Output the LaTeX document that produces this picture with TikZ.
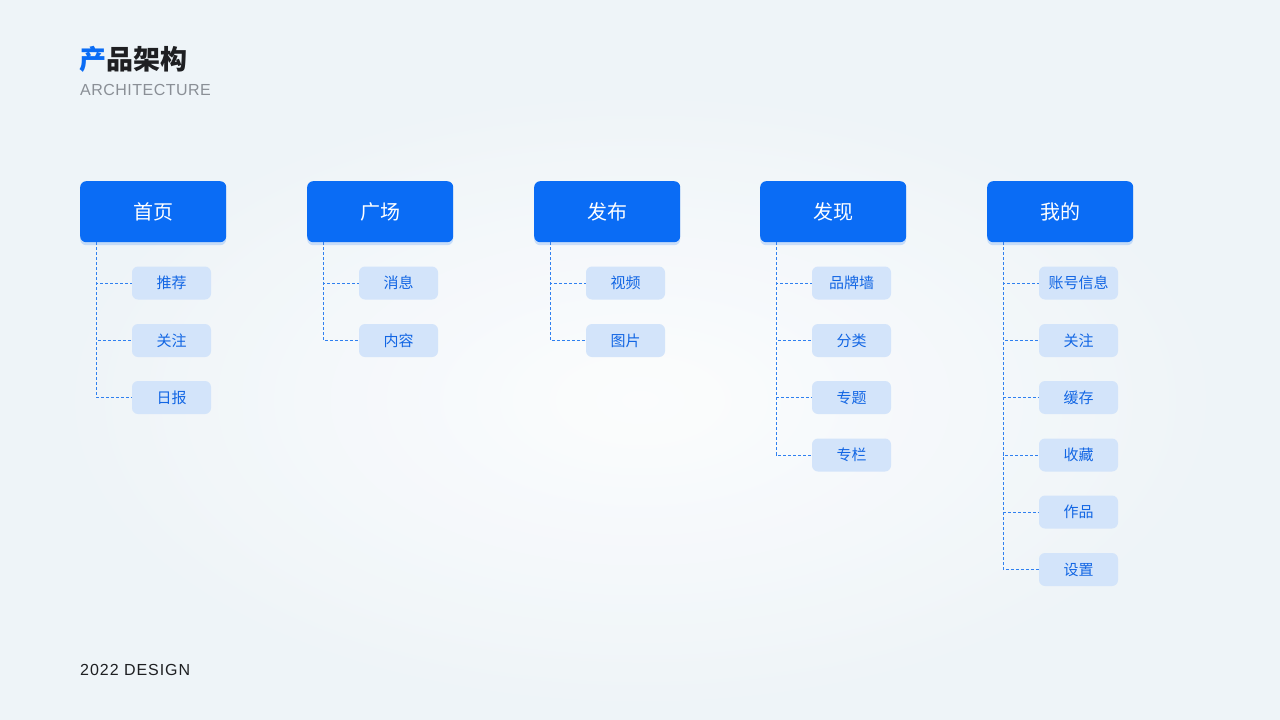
\documentclass[tikz,border=0pt]{standalone}
\usepackage{fontspec}
\setmainfont{Liberation Sans}
\newfontfamily\cjk{Noto Sans CJK SC}
\usetikzlibrary{shadows,calc}
\definecolor{mainblue}{HTML}{0A6CF5}
\definecolor{subfill}{HTML}{D3E4FA}
\definecolor{subtext}{HTML}{1266E4}
\definecolor{linecol}{HTML}{2F80F0}
\definecolor{bgcol}{HTML}{EEF4F8}
\definecolor{titledark}{HTML}{1E1F22}
\definecolor{graytext}{HTML}{8A8F96}
\tikzset{
  mainbox/.style={rectangle, rounded corners=6pt, fill=mainblue, minimum width=146pt, minimum height=61pt, inner sep=0pt, anchor=north west, text=white, font=\cjk\fontsize{20}{24}\selectfont, drop shadow={shadow xshift=0pt, shadow yshift=-3pt, fill=mainblue, opacity=0.18}},
  subbox/.style={rectangle, rounded corners=6pt, fill=subfill, minimum width=79pt, minimum height=33pt, inner sep=0pt, text=subtext, font=\cjk\fontsize{15}{18}\selectfont},
  dashline/.style={draw=linecol, line width=1pt, dash pattern=on 3pt off 2pt}
}
\begin{document}
\begin{tikzpicture}[x=1pt,y=-1pt]
\useasboundingbox (0,0) rectangle (1280,720);
\begin{scope}
\clip (0,0) rectangle (1280,720);
\fill[bgcol] (0,0) rectangle (1280,720);
\shade[inner color=white, outer color=bgcol, opacity=0.8] (640,400) ellipse (620 and 330);
\end{scope}
% title
\node[anchor=base west, inner sep=0pt, font=\cjk\bfseries\fontsize{27}{32}\selectfont] (title) at (79,69) {\textcolor{mainblue}{产}\textcolor{titledark}{品架构}};
\node[anchor=base west, inner sep=0pt, font=\fontsize{16}{19}\selectfont\addfontfeature{LetterSpace=3}, text=graytext] (sub) at (80,95) {ARCHITECTURE};
\node[anchor=base west, inner sep=0pt, font=\fontsize{16}{19}\selectfont\addfontfeature{LetterSpace=6}, text=titledark] (foot) at (80,675) {2022 DESIGN};
% main boxes
\node[mainbox] (m1) at (80,181) {首页};
\node[mainbox] (m2) at (307,181) {广场};
\node[mainbox] (m3) at (534,181) {发布};
\node[mainbox] (m4) at (760,181) {发现};
\node[mainbox] (m5) at (987,181) {我的};
% sub boxes
\node[subbox] (s11) at (171.5,283) {推荐};
\node[subbox] (s12) at (171.5,340.5) {关注};
\node[subbox] (s13) at (171.5,397.5) {日报};
\node[subbox] (s21) at (398.5,283) {消息};
\node[subbox] (s22) at (398.5,340.5) {内容};
\node[subbox] (s31) at (625.5,283) {视频};
\node[subbox] (s32) at (625.5,340.5) {图片};
\node[subbox] (s41) at (851.5,283) {品牌墙};
\node[subbox] (s42) at (851.5,340.5) {分类};
\node[subbox] (s43) at (851.5,397.5) {专题};
\node[subbox] (s44) at (851.5,455) {专栏};
\node[subbox] (s51) at (1078.5,283) {账号信息};
\node[subbox] (s52) at (1078.5,340.5) {关注};
\node[subbox] (s53) at (1078.5,397.5) {缓存};
\node[subbox] (s54) at (1078.5,455) {收藏};
\node[subbox] (s55) at (1078.5,512) {作品};
\node[subbox] (s56) at (1078.5,569.5) {设置};
% connectors
\foreach \m/\list in {1/{1,2,3},2/{1,2},3/{1,2},4/{1,2,3,4},5/{1,2,3,4,5,6}}{
  \coordinate (c\m) at ($(m\m.south west)+(16,0)$);
  \foreach \s in \list {
    \draw[dashline] (c\m) |- (s\m\s.west);
  }
}
\end{tikzpicture}
\end{document}
